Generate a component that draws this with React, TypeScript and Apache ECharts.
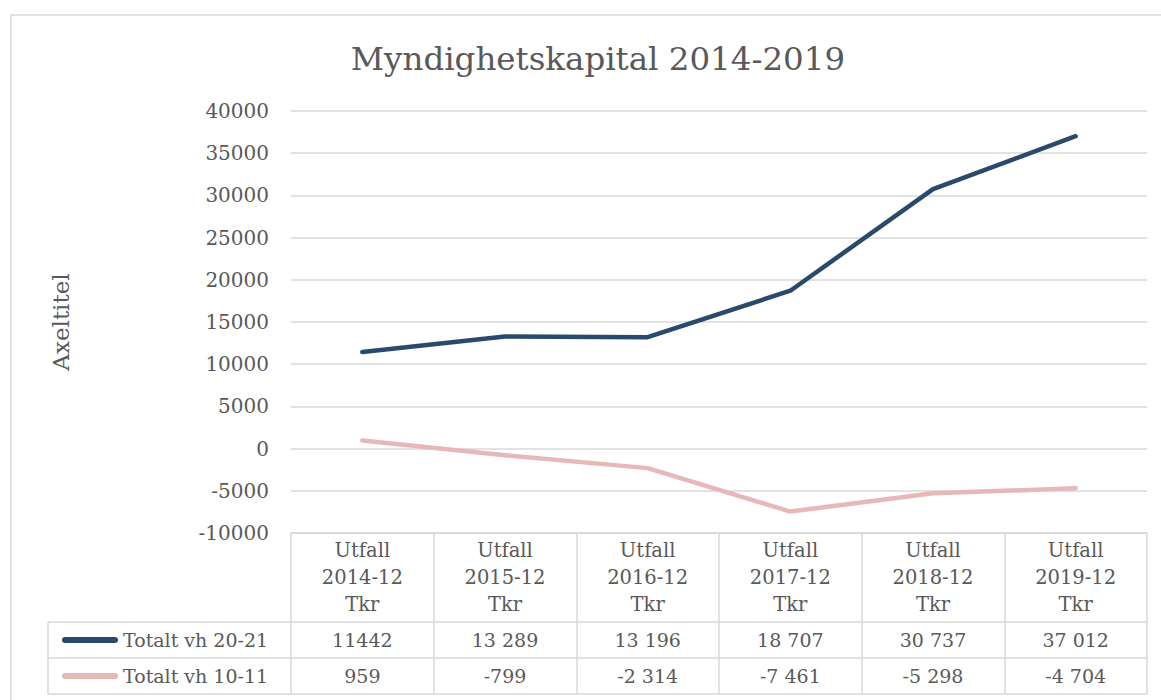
import React, { useEffect, useRef } from "react";
import * as echarts from "echarts";

const categories = ["Utfall\n2014-12\nTkr", "Utfall\n2015-12\nTkr", "Utfall\n2016-12\nTkr", "Utfall\n2017-12\nTkr", "Utfall\n2018-12\nTkr", "Utfall\n2019-12\nTkr"];
const seriesNames = ["Totalt vh 20-21", "Totalt vh 10-11"];
const values2021 = [11442, 13289, 13196, 18707, 30737, 37012];
const values1011 = [959, -799, -2314, -7461, -5298, -4704];
const tableLabels2021 = ["11442", "13 289", "13 196", "18 707", "30 737", "37 012"];
const tableLabels1011 = ["959", "-799", "-2 314", "-7 461", "-5 298", "-4 704"];
const yTicks = { min: -10000, max: 40000, interval: 5000 };

const FONT = "DejaVu Serif";
const TXT = "#595959";
const GRID = "#d9d9d9";
const NAVY = "#2a4a6b";
const PINK = "#e6b9b8";

export default function App() {
  const ref = useRef<HTMLDivElement>(null);
  useEffect(() => {
    document.body.style.margin = "0";
    const chart = echarts.init(ref.current!, null, { renderer: "svg" });
    const tableAxis = (data: string[], offset: number, showLabel: boolean, tick: boolean) => ({
      type: "category",
      gridIndex: 0,
      position: "bottom",
      offset,
      data,
      boundaryGap: true,
      axisLine: { show: true, onZero: false, lineStyle: { color: GRID, width: 1.5 } },
      axisTick: { show: tick, length: 36, lineStyle: { color: GRID, width: 1.5 } },
      axisLabel: {
        show: showLabel,
        margin: 0,
        fontFamily: FONT,
        fontSize: 19,
        color: TXT,
        lineHeight: 36,
        interval: 0,
      },
      splitLine: { show: false },
    });
    chart.setOption({
      animation: false,
      title: {
        text: "Myndighetskapital 2014-2019",
        left: 593,
        textAlign: "center",
        top: 37,
        textStyle: { fontFamily: FONT, fontSize: 32.5, fontWeight: "normal", color: TXT },
      },
      legend: {
        orient: "vertical",
        left: 62,
        top: 622,
        itemGap: 0,
        itemWidth: 56,
        itemHeight: 6,
        padding: 0,
        icon: "path://M3,0 H53 A3,3 0 0 1 53,6 H3 A3,3 0 0 1 3,0 Z",
        data: seriesNames,
        textStyle: { fontFamily: FONT, fontSize: 19, color: TXT, lineHeight: 36 },
        selectedMode: false,
      },
      grid: { left: 291, right: 14, top: 111, bottom: 167, containLabel: false },
      xAxis: [
        {
          type: "category",
          position: "bottom",
          data: categories,
          boundaryGap: true,
          axisLine: { show: true, onZero: false, lineStyle: { color: GRID, width: 1.5 } },
          axisTick: { show: true, length: 89, lineStyle: { color: GRID, width: 1.5 } },
          axisLabel: {
            margin: 4,
            fontFamily: FONT,
            fontSize: 19.5,
            color: TXT,
            lineHeight: 27,
            interval: 0,
          },
        },
        tableAxis(tableLabels2021, 89, true, true),
        tableAxis(tableLabels1011, 125, true, true),
        tableAxis(["", "", "", "", "", ""], 161, false, false),
      ],
      yAxis: {
        type: "value",
        min: yTicks.min,
        max: yTicks.max,
        interval: yTicks.interval,
        name: "Axeltitel",
        nameLocation: "middle",
        nameGap: 219,
        nameRotate: 90,
        nameTextStyle: { fontFamily: FONT, fontSize: 23, color: TXT },
        axisLine: { show: false },
        axisTick: { show: false },
        axisLabel: {
          margin: 22,
          fontFamily: FONT,
          fontSize: 20,
          color: TXT,
          formatter: (v: number) => String(v),
        },
        splitLine: { lineStyle: { color: GRID, width: 1.5 } },
      },
      series: [
        {
          name: seriesNames[0],
          type: "line",
          data: values2021,
          symbol: "none",
          color: NAVY,
          lineStyle: { color: NAVY, width: 4.5, cap: "round", join: "round" },
        },
        {
          name: seriesNames[1],
          type: "line",
          data: values1011,
          symbol: "none",
          color: PINK,
          lineStyle: { color: PINK, width: 4.5, cap: "round", join: "round" },
        },
      ],
      graphic: [
        { type: "rect", shape: { x: 11, y: 15, width: 1300, height: 900 }, style: { fill: "none", stroke: GRID, lineWidth: 1.5 }, silent: true },
        { type: "line", shape: { x1: 48, y1: 622, x2: 291, y2: 622 }, style: { stroke: GRID, lineWidth: 1.5 } },
        { type: "line", shape: { x1: 48, y1: 658, x2: 291, y2: 658 }, style: { stroke: GRID, lineWidth: 1.5 } },
        { type: "line", shape: { x1: 48, y1: 694, x2: 291, y2: 694 }, style: { stroke: GRID, lineWidth: 1.5 } },
        { type: "line", shape: { x1: 48, y1: 622, x2: 48, y2: 694 }, style: { stroke: GRID, lineWidth: 1.5 } },
      ],
    });
    return () => chart.dispose();
  }, []);
  return <div ref={ref} style={{ width: 1161, height: 700 }} />;
}
